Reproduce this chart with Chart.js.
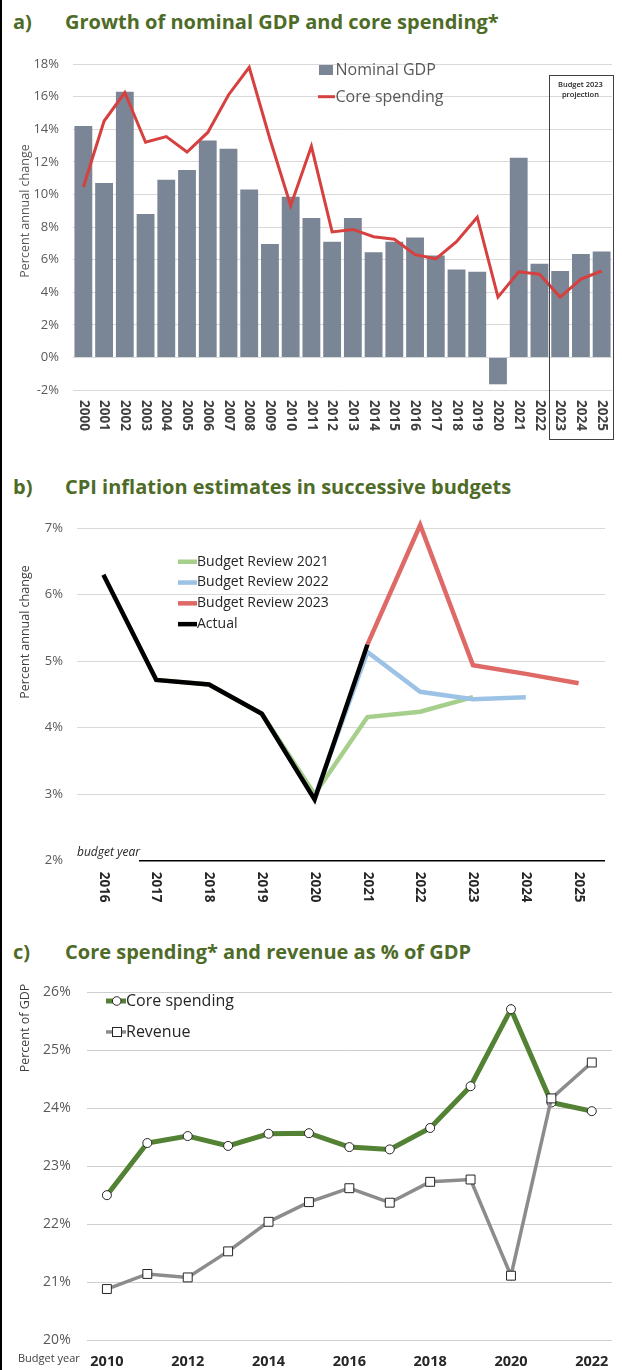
<!DOCTYPE html>
<html>
<head>
<meta charset="utf-8">
<script src="https://cdn.jsdelivr.net/npm/chart.js@4.4.1/dist/chart.umd.min.js"></script>
<style>
  body { margin: 0; width: 622px; height: 1370px; position: relative; background: #fff; overflow: hidden;
         font-family: 'Open Sans', sans-serif; }
  .edge { position: absolute; left: 0; top: 0; width: 2px; height: 1370px; background: #000; }
  .title { position: absolute; left: 13px; height: 28px; line-height: 28px; font-weight: 700; font-size: 20px;
           color: #4e6b27; white-space: nowrap; }
  .title span { display: inline-block; width: 52px; }
  canvas { position: absolute; left: 0; }
</style>
</head>
<body>
<div class="edge"></div>
<div class="title" style="top:8px"><span>a)</span>Growth of nominal GDP and core spending*</div>
<canvas id="chartA" width="622" height="410" style="top:40px"></canvas>
<div class="title" style="top:473px"><span>b)</span>CPI inflation estimates in successive budgets</div>
<canvas id="chartB" width="622" height="405" style="top:505px"></canvas>
<div class="title" style="top:938px"><span>c)</span>Core spending* and revenue as % of GDP</div>
<canvas id="chartC" width="622" height="402" style="top:968px"></canvas>

<script>
// a) growth of nominal GDP and core spending, % annual change
const yearsA = ['2000', '2001', '2002', '2003', '2004', '2005', '2006', '2007', '2008', '2009', '2010', '2011', '2012',
  '2013', '2014', '2015', '2016', '2017', '2018', '2019', '2020', '2021', '2022', '2023', '2024', '2025'];
const nominalGdp = [14.2, 10.7, 16.3, 8.8, 10.9, 11.5, 13.3, 12.8, 10.3, 6.95, 9.85, 8.55, 7.1,
  8.55, 6.45, 7.1, 7.35, 6.25, 5.4, 5.25, -1.65, 12.25, 5.75, 5.3, 6.35, 6.5];
const coreSpendingGrowth = [10.45, 14.5, 16.25, 13.2, 13.55, 12.6, 13.8, 16.1, 17.8, 13.4, 9.3, 12.95, 7.7,
  7.85, 7.4, 7.25, 6.3, 6.05, 7.1, 8.6, 3.7, 5.25, 5.1, 3.7, 4.8, 5.3];
const projectionStart = '2023';

// b) CPI inflation estimates, budget years
const yearsB = ['2016', '2017', '2018', '2019', '2020', '2021', '2022', '2023', '2024', '2025'];
const cpiReview2021 = [null, 4.72, 4.65, 4.21, 3.0, 4.16, 4.24, 4.46, null, null];
const cpiReview2022 = [null, null, null, null, 2.95, 5.14, 4.54, 4.43, 4.46, null];
const cpiReview2023 = [null, null, null, null, null, 5.25, 7.05, 4.94, 4.81, 4.67];
const cpiActual = [6.3, 4.72, 4.65, 4.21, 2.92, 5.25, null, null, null, null];

// c) core spending and revenue as % of GDP
const yearsC = ['2010', '2011', '2012', '2013', '2014', '2015', '2016', '2017', '2018', '2019', '2020', '2021', '2022'];
const coreSpendingShare = [22.5, 23.4, 23.52, 23.35, 23.56, 23.57, 23.33, 23.29, 23.66, 24.38, 25.71, 24.1, 23.95];
const revenueShare = [20.88, 21.14, 21.08, 21.53, 22.04, 22.38, 22.62, 22.37, 22.73, 22.77, 21.11, 24.17, 24.79];

const FONT = "'Open Sans', sans-serif";
Chart.defaults.font.family = FONT;
Chart.defaults.animation = false;
Chart.defaults.responsive = false;
Chart.defaults.devicePixelRatio = 1;
Chart.defaults.plugins.legend.display = false;
Chart.defaults.plugins.tooltip.enabled = false;

const GDP_COLOR = '#7a8595';
const CORE_RED = '#d6403f';
const GRID = '#d9d9d9';

function label(ctx, str, x, y, font, color, align = 'left', rot = 0) {
  ctx.save();
  ctx.translate(x, y);
  ctx.rotate(rot);
  ctx.font = font;
  ctx.fillStyle = color;
  ctx.textAlign = align;
  ctx.textBaseline = 'middle';
  ctx.fillText(str, 0, 0);
  ctx.restore();
}

function overlay(id, draw) {
  return { id, afterDatasetsDraw(chart) { draw(chart, chart.ctx); } };
}

// vertical tick labels, reading top to bottom
function downTicks(chart, labels, gap, font, color) {
  const xs = chart.scales.x;
  labels.forEach((lab, i) => {
    label(chart.ctx, lab, xs.getPixelForValue(i), chart.chartArea.bottom + gap, font, color, 'left', Math.PI / 2);
  });
}

const yTicks = (size, pad) => ({
  font: { size }, color: '#595959', padding: pad, callback: v => v + '%'
});

// ---------- chart a ----------
new Chart(document.getElementById('chartA'), {
  type: 'bar',
  data: {
    labels: yearsA,
    datasets: [
      { type: 'line', label: 'Core spending', data: coreSpendingGrowth, borderColor: CORE_RED, borderWidth: 3,
        pointRadius: 0, tension: 0, order: 0 },
      { label: 'Nominal GDP', data: nominalGdp, backgroundColor: GDP_COLOR,
        barPercentage: 0.86, categoryPercentage: 1, order: 1 },
    ],
  },
  options: {
    layout: { padding: { top: 24, right: 10, left: 0, bottom: 0 } },
    scales: {
      x: { grid: { display: false }, border: { display: false }, ticks: { display: false },
        afterFit: s => { s.height = 60; } },
      y: { min: -2, max: 18, ticks: { ...yTicks(13, 14), stepSize: 2 },
        grid: { color: GRID, drawTicks: false }, border: { display: false },
        afterFit: s => { s.width = 73; } },
    },
  },
  plugins: [overlay('decorA', (chart, ctx) => {
    const area = chart.chartArea;
    const xs = chart.scales.x;
    downTicks(chart, yearsA, 10, `bold 13.5px ${FONT}`, '#404040');
    label(ctx, 'Percent annual change', 25, 171, `12.5px ${FONT}`, '#595959', 'center', -Math.PI / 2);

    // projection box
    const step = xs.getPixelForValue(1) - xs.getPixelForValue(0);
    const left = xs.getPixelForValue(yearsA.indexOf(projectionStart)) - step / 2 - 1;
    const top = area.top + 11;
    ctx.save();
    ctx.strokeStyle = '#404040';
    ctx.lineWidth = 1;
    ctx.strokeRect(Math.round(left) + 0.5, top + 0.5, Math.round(area.right + 1 - left), area.bottom + 49 - top);
    ctx.restore();
    const cx = (left + area.right) / 2;
    label(ctx, 'Budget 2023', cx, top + 10, `600 7.5px ${FONT}`, '#262626', 'center');
    label(ctx, 'projection', cx, top + 20, `600 7.5px ${FONT}`, '#262626', 'center');

    // legend
    ctx.fillStyle = GDP_COLOR;
    ctx.fillRect(319, 25, 14, 10);
    label(ctx, 'Nominal GDP', 335.5, 30, `16px ${FONT}`, '#595959');
    ctx.fillStyle = CORE_RED;
    ctx.fillRect(318, 55.2, 17, 3);
    label(ctx, 'Core spending', 335.5, 57, `16px ${FONT}`, '#595959');
  })],
});

// ---------- chart b ----------
const cpiLine = (lab, data, color, order) => ({
  label: lab, data, borderColor: color, borderWidth: 4.5, pointRadius: 0, tension: 0, order,
  spanGaps: false, borderJoinStyle: 'miter', clip: false,
});
const seriesB = [
  ['Budget Review 2021', cpiReview2021, '#a6cf8c', 3],
  ['Budget Review 2022', cpiReview2022, '#9cc3e6', 2],
  ['Budget Review 2023', cpiReview2023, '#de6966', 1],
  ['Actual', cpiActual, '#000000', 0],
];
new Chart(document.getElementById('chartB'), {
  type: 'line',
  data: { labels: yearsB, datasets: seriesB.map(s => cpiLine(...s)) },
  options: {
    layout: { padding: { top: 23.3, right: 17, left: 0, bottom: 0 } },
    scales: {
      x: { offset: true, grid: { display: false }, border: { display: false }, ticks: { display: false },
        afterFit: s => { s.height = 49.3; } },
      y: { min: 2, max: 7, ticks: { ...yTicks(13, 14), stepSize: 1 },
        grid: { color: c => (c.tick && c.tick.value === 2 ? 'rgba(0,0,0,0)' : GRID), drawTicks: false },
        border: { display: false }, afterFit: s => { s.width = 77; } },
    },
  },
  plugins: [overlay('decorB', (chart, ctx) => {
    const area = chart.chartArea;
    ctx.save();
    ctx.strokeStyle = '#000';
    ctx.lineWidth = 1.5;
    ctx.beginPath();
    ctx.moveTo(139, area.bottom);
    ctx.lineTo(area.right, area.bottom);
    ctx.stroke();
    ctx.restore();
    label(ctx, 'budget year', 77, area.bottom - 8, `italic 12px ${FONT}`, '#262626');
    downTicks(chart, yearsB, 11, `bold 13.5px ${FONT}`, '#262626');
    label(ctx, 'Percent annual change', 25, 127, `12.5px ${FONT}`, '#404040', 'center', -Math.PI / 2);
    seriesB.forEach((s, i) => {
      const y = 56.7 + i * 20.8;
      ctx.fillStyle = s[2];
      ctx.fillRect(178, y - 2.2, 19, 4.5);
      label(ctx, s[0], 197, y, `14px ${FONT}`, '#262626');
    });
  })],
});

// ---------- chart c ----------
new Chart(document.getElementById('chartC'), {
  type: 'line',
  data: {
    labels: yearsC,
    datasets: [
      { label: 'Core spending', data: coreSpendingShare, borderColor: '#548235', borderWidth: 5, tension: 0,
        pointStyle: 'circle', pointRadius: 4.5, pointBackgroundColor: '#fff', pointBorderColor: '#262626',
        pointBorderWidth: 1, order: 1 },
      { label: 'Revenue', data: revenueShare, borderColor: '#8c8c8c', borderWidth: 3.5, tension: 0,
        pointStyle: 'rect', pointRadius: 6.3, pointBackgroundColor: '#fff', pointBorderColor: '#262626',
        pointBorderWidth: 1, order: 0 },
    ],
  },
  options: {
    layout: { padding: { top: 19.3, right: 10, left: 0, bottom: 0 } },
    scales: {
      x: { offset: true, grid: { display: false }, border: { display: false },
        ticks: { autoSkip: false, maxRotation: 0, padding: 5, font: { size: 14.5, weight: 'bold' }, color: '#262626',
          callback: (v, i) => (i % 2 === 0 ? yearsC[i] : '') },
        afterFit: s => { s.height = 30; } },
      y: { min: 20, max: 26, ticks: { ...yTicks(14, 16), stepSize: 1 },
        grid: { color: '#cfcfcf', drawTicks: false }, border: { display: false },
        afterFit: s => { s.width = 86.7; } },
    },
  },
  plugins: [overlay('decorC', (chart, ctx) => {
    label(ctx, 'Budget year', 18, 391, `11px ${FONT}`, '#404040');
    label(ctx, 'Percent of GDP', 25, 60, `12.5px ${FONT}`, '#404040', 'center', -Math.PI / 2);
    // legend
    ctx.save();
    ctx.lineWidth = 1;
    ctx.strokeStyle = '#262626';
    ctx.fillStyle = '#548235';
    ctx.fillRect(106, 30.5, 20, 5);
    ctx.fillStyle = '#fff';
    ctx.beginPath();
    ctx.arc(116.7, 33, 4.3, 0, Math.PI * 2);
    ctx.fill();
    ctx.stroke();
    ctx.fillStyle = '#8c8c8c';
    ctx.fillRect(106, 62.2, 20, 3.5);
    ctx.fillStyle = '#fff';
    ctx.fillRect(112.5, 59.5, 9, 9);
    ctx.strokeRect(112.5, 59.5, 9, 9);
    ctx.restore();
    label(ctx, 'Core spending', 126, 33, `16px ${FONT}`, '#262626');
    label(ctx, 'Revenue', 126, 64, `16px ${FONT}`, '#262626');
  })],
});
</script>
</body>
</html>
